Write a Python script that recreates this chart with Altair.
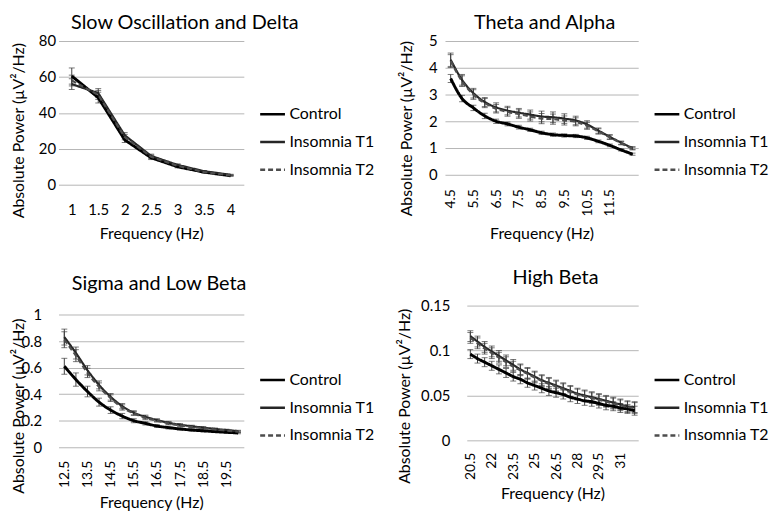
import altair as alt
import pandas as pd

SERIES = ["Control", "Insomnia T1", "Insomnia T2"]
LINE_COLORS = ["#000000", "#262626", "#4d4d4d"]
LINE_DASH = [[1, 0], [1, 0], [5, 3]]

# ---- Slow Oscillation and Delta ----
p1_freq = [1, 1.5, 2, 2.5, 3, 3.5, 4]
p1_ctrl = [60.5, 48.5, 25.0, 15.0, 10.0, 7.0, 5.0]
p1_t1 = [56.0, 51.0, 27.5, 16.0, 11.0, 7.5, 5.5]
p1_t2 = [58.0, 50.0, 26.5, 15.5, 10.5, 7.0, 5.2]
p1_ctrl_se = [4.5, 3.0, 1.5, 1.0, 0.6, 0.4, 0.3]
p1_t1_se = [3.0, 2.5, 1.5, 1.0, 0.6, 0.4, 0.3]
p1_t2_se = [3.0, 2.5, 1.5, 1.0, 0.6, 0.4, 0.3]
p1_xticks = [1, 1.5, 2, 2.5, 3, 3.5, 4]
p1_yticks = [0, 20, 40, 60, 80]

# ---- Theta and Alpha ----
p2_freq = [4.5, 5, 5.5, 6, 6.5, 7, 7.5, 8, 8.5, 9, 9.5, 10, 10.5, 11, 11.5, 12, 12.5]
p2_ctrl = [3.6, 2.85, 2.5, 2.2, 2.0, 1.9, 1.78, 1.68, 1.57, 1.5, 1.47, 1.45, 1.38, 1.25, 1.1, 0.93, 0.77]
p2_t1 = [4.3, 3.55, 3.05, 2.72, 2.52, 2.4, 2.32, 2.25, 2.18, 2.15, 2.1, 2.03, 1.88, 1.65, 1.42, 1.2, 1.0]
p2_t2 = [4.25, 3.5, 3.0, 2.68, 2.47, 2.35, 2.27, 2.18, 2.1, 2.08, 2.03, 1.98, 1.83, 1.62, 1.4, 1.18, 0.98]
p2_ctrl_se = [0.15, 0.12, 0.1, 0.1, 0.08, 0.07, 0.07, 0.06, 0.06, 0.06, 0.06, 0.06, 0.06, 0.05, 0.05, 0.04, 0.04]
p2_t1_se = [0.25, 0.2, 0.18, 0.17, 0.17, 0.16, 0.16, 0.17, 0.2, 0.2, 0.18, 0.16, 0.14, 0.1, 0.08, 0.06, 0.05]
p2_t2_se = [0.24, 0.2, 0.18, 0.17, 0.16, 0.16, 0.16, 0.17, 0.19, 0.19, 0.17, 0.15, 0.13, 0.1, 0.08, 0.06, 0.05]
p2_xticks = [4.5, 5.5, 6.5, 7.5, 8.5, 9.5, 10.5, 11.5]
p2_yticks = [0, 1, 2, 3, 4, 5]

# ---- Sigma and Low Beta ----
p3_freq = [12.5, 13, 13.5, 14, 14.5, 15, 15.5, 16, 16.5, 17, 17.5, 18, 18.5, 19, 19.5, 20]
p3_ctrl = [0.61, 0.51, 0.42, 0.34, 0.28, 0.235, 0.2, 0.18, 0.16, 0.148, 0.138, 0.13, 0.124, 0.118, 0.113, 0.108]
p3_t1 = [0.83, 0.71, 0.58, 0.47, 0.38, 0.31, 0.26, 0.23, 0.205, 0.185, 0.17, 0.158, 0.148, 0.138, 0.13, 0.122]
p3_t2 = [0.81, 0.69, 0.56, 0.455, 0.37, 0.3, 0.255, 0.222, 0.2, 0.18, 0.165, 0.153, 0.143, 0.134, 0.126, 0.118]
p3_ctrl_se = [0.06, 0.05, 0.04, 0.03, 0.025, 0.02, 0.015, 0.012, 0.01, 0.01, 0.008, 0.008, 0.007, 0.007, 0.006, 0.006]
p3_t1_se = [0.06, 0.045, 0.035, 0.03, 0.025, 0.02, 0.015, 0.012, 0.01, 0.01, 0.008, 0.008, 0.007, 0.007, 0.006, 0.006]
p3_t2_se = [0.06, 0.045, 0.035, 0.03, 0.025, 0.02, 0.015, 0.012, 0.01, 0.01, 0.008, 0.008, 0.007, 0.007, 0.006, 0.006]
p3_xticks = [12.5, 13.5, 14.5, 15.5, 16.5, 17.5, 18.5, 19.5]
p3_yticks = [0, 0.2, 0.4, 0.6, 0.8, 1]

# ---- High Beta ----
p4_freq = [20.5, 21, 21.5, 22, 22.5, 23, 23.5, 24, 24.5, 25, 25.5, 26,
           26.5, 27, 27.5, 28, 28.5, 29, 29.5, 30, 30.5, 31, 31.5, 32]
p4_ctrl = [0.096, 0.091, 0.087, 0.083, 0.079, 0.075, 0.071, 0.068, 0.064, 0.061, 0.058, 0.055,
           0.053, 0.051, 0.048, 0.046, 0.044, 0.043, 0.041, 0.039, 0.038, 0.036, 0.035, 0.033]
p4_t1 = [0.116, 0.11, 0.104, 0.099, 0.094, 0.089, 0.084, 0.079, 0.075, 0.071, 0.067, 0.064,
         0.061, 0.058, 0.055, 0.052, 0.05, 0.048, 0.046, 0.044, 0.042, 0.04, 0.038, 0.037]
p4_t2 = [0.114, 0.108, 0.102, 0.097, 0.092, 0.087, 0.082, 0.078, 0.074, 0.07, 0.066, 0.063,
         0.06, 0.057, 0.054, 0.051, 0.049, 0.047, 0.045, 0.043, 0.041, 0.039, 0.037, 0.036]
p4_ctrl_se = [0.005] * 24
p4_t1_se = [0.006] * 24
p4_t2_se = [0.006] * 24
p4_xticks = [20.5, 22, 23.5, 25, 26.5, 28, 29.5, 31]
p4_yticks = [0, 0.05, 0.1, 0.15]

FONT = "Lato"
ERR_COLOR = "#404040"
GRID = "#b5b5b5"


def long_df(freqs, vals, ses):
    rows = []
    for name, vs, ss in zip(SERIES, vals, ses):
        for f, v, s in zip(freqs, vs, ss):
            rows.append({"f": f, "v": v, "lo": v - s, "hi": v + s, "series": name})
    return pd.DataFrame(rows)


def panel(title, tdx, toff, df, xdom, xticks, xangle, xlabpad, xlabsize, xtitley,
          ydom, yticks, ylabpad, ytitlex, ytitley, w, h, interp, lx, ly):
    xax = alt.Axis(values=xticks, tickCount=len(xticks), labelExpr="'' + datum.value",
                   title="Frequency (Hz)",
                   grid=False, domain=False, ticks=False, labelAngle=xangle,
                   labelPadding=xlabpad, labelFontSize=xlabsize, titleY=xtitley,
                   titleFontSize=16, labelFlush=False, labelOverlap=False)
    yax = alt.Axis(values=yticks, tickCount=len(yticks), labelExpr="'' + datum.value",
                   title="Absolute Power (µV²/Hz)",
                   grid=True, gridColor=GRID, domain=False, ticks=False, labelOverlap=False,
                   labelFlush=False,
                   labelPadding=ylabpad, labelFontSize=15, titleX=ytitlex, titleY=ytitley,
                   titleFontSize=16, titleBaseline="middle", titleAlign="center")
    x = alt.X("f:Q", scale=alt.Scale(domain=xdom, nice=False, zero=False), axis=xax)
    y = alt.Y("v:Q", scale=alt.Scale(domain=ydom, nice=False, zero=False), axis=yax)
    leg = alt.Legend(orient="none", legendX=lx, legendY=ly, title=None, symbolType="stroke",
                     symbolSize=625, symbolStrokeWidth=2.5, labelFontSize=16, labelFont=FONT,
                     labelColor="#000", labelOffset=3, rowPadding=6)
    base = alt.Chart(df)
    rules = base.mark_rule(color=ERR_COLOR, strokeWidth=1).encode(
        x=x, y=alt.Y("lo:Q"), y2="hi:Q")
    cap_lo = base.mark_tick(color=ERR_COLOR, orient="horizontal", size=6, thickness=1).encode(
        x=x, y=alt.Y("lo:Q"))
    cap_hi = base.mark_tick(color=ERR_COLOR, orient="horizontal", size=6, thickness=1).encode(
        x=x, y=alt.Y("hi:Q"))
    lines = base.mark_line(interpolate=interp).encode(
        x=x, y=y,
        color=alt.Color("series:N", scale=alt.Scale(domain=SERIES, range=LINE_COLORS), legend=leg),
        strokeDash=alt.StrokeDash("series:N", scale=alt.Scale(domain=SERIES, range=LINE_DASH), legend=leg),
        strokeWidth=alt.condition("datum.series == 'Control'", alt.value(3), alt.value(2.2)),
        order=alt.Order("series:N"),
    )
    return alt.layer(rules, cap_lo, cap_hi, lines).properties(
        width=w, height=h,
        title=alt.TitleParams(title, fontSize=20, font=FONT, fontWeight="normal",
                              anchor="middle", frame="group", dx=tdx, offset=toff,
                              baseline="bottom", color="#000"),
    )


p1 = panel("Slow Oscillation and Delta", 34, -19,
           long_df(p1_freq, [p1_ctrl, p1_t1, p1_t2], [p1_ctrl_se, p1_t1_se, p1_t2_se]),
           [0.75, 4.25], p1_xticks, 0, 18, 15, 41,
           [0, 80], p1_yticks, 3, -40, 90, 187, 145, "linear", 202, 60)
p2 = panel("Theta and Alpha", 3, -19,
           long_df(p2_freq, [p2_ctrl, p2_t1, p2_t2], [p2_ctrl_se, p2_t1_se, p2_t2_se]),
           [4.25, 12.75], p2_xticks, 270, 14, 14, 51,
           [0, 5], p2_yticks, 8, -39, 88, 195, 135, "monotone", 210, 60)
p3 = panel("Sigma and Low Beta", 8, -8,
           long_df(p3_freq, [p3_ctrl, p3_t1, p3_t2], [p3_ctrl_se, p3_t1_se, p3_t2_se]),
           [12.25, 20.25], p3_xticks, 270, 13, 14, 48,
           [0, 143 / 134], p3_yticks, 17, -40, 101, 187, 143, "monotone", 202, 61)
p4 = panel("High Beta", 3, -9,
           long_df(p4_freq, [p4_ctrl, p4_t1, p4_t2], [p4_ctrl_se, p4_t1_se, p4_t2_se]),
           [20.25, 32.25], p4_xticks, 270, 12, 14, 46,
           [0, 0.15], p4_yticks, 17, -63, 91, 173, 136, "monotone", 188, 61)

row1 = alt.hconcat(p1, p2, spacing=203, bounds="flush").resolve_scale(
    color="independent", strokeDash="independent", x="independent", y="independent")
row2 = alt.hconcat(p3, p4, spacing=225, bounds="flush").resolve_scale(
    color="independent", strokeDash="independent", x="independent", y="independent")

chart = alt.vconcat(row1, row2, spacing=27).resolve_scale(
    color="independent", strokeDash="independent", x="independent", y="independent"
).properties(
    padding={"left": 2, "top": 3, "right": 0, "bottom": 0}
).configure_view(stroke=None).configure_axis(
    labelFont=FONT, titleFont=FONT, labelColor="#000", titleColor="#000",
    titleFontWeight="normal"
).configure_title(font=FONT)

chart.save("out.html", embed_options={"renderer": "svg", "actions": False})
